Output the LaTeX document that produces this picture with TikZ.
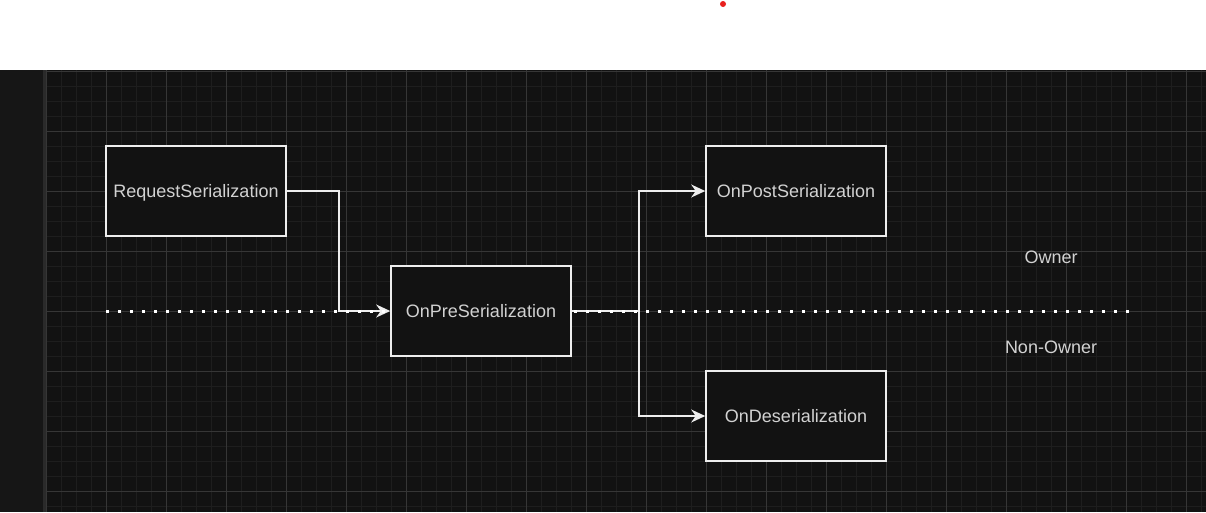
\documentclass[tikz,border=0pt]{standalone}
\usepackage{fontspec}
\setmainfont{Liberation Sans}
\usetikzlibrary{arrows.meta,backgrounds}
\definecolor{bgdark}{HTML}{121212}
\definecolor{strip}{HTML}{161616}
\definecolor{stripedge}{HTML}{2A2A2A}
\definecolor{minorgrid}{HTML}{1E1E1E}
\definecolor{majorgrid}{HTML}{363636}
\definecolor{boxline}{HTML}{EEEEEE}
\definecolor{txt}{HTML}{D2D2D2}
\definecolor{reddot}{HTML}{E8201E}
\begin{document}
\begin{tikzpicture}[x=1pt,y=-1pt,
  stepbox/.style={draw=boxline, line width=1.6pt, fill=bgdark, minimum width=180pt, minimum height=90pt, inner sep=0pt, text=txt, font=\fontsize{18}{21}\selectfont, text height=12.9pt, text depth=0pt},
  lbl/.style={text=txt, font=\fontsize{18}{21}\selectfont, inner sep=0pt, text height=12.9pt, text depth=0pt},
  conn/.style={draw=boxline, line width=1.6pt, -{Stealth[length=14pt,width=13pt,inset=4.5pt]}},
  dotline/.style={draw=white, line width=3pt, dash pattern=on 3pt off 9pt},
  minorline/.style={draw=minorgrid, line width=1pt},
  majorline/.style={draw=majorgrid, line width=1pt}]
\useasboundingbox (0,0) rectangle (1206,512);
\begin{pgfonlayer}{background}
\fill[white] (0,0) rectangle (1206,70);
\fill[bgdark] (0,70) rectangle (1206,512);
\foreach \x in {46,61,...,1206} \draw[minorline] (\x,70) -- (\x,512);
\foreach \y in {71,86,...,512} \draw[minorline] (45,\y) -- (1206,\y);
\foreach \x in {46,106,...,1206} \draw[majorline] (\x,70) -- (\x,512);
\foreach \y in {71,131,...,512} \draw[majorline] (45,\y) -- (1206,\y);
\fill[strip] (0,70) rectangle (43,512);
\fill[stripedge] (43,70) rectangle (45.5,512);
\fill[reddot] (723,4) circle (3pt);
\end{pgfonlayer}

\node[stepbox] (req) at (196,191) {RequestSerialization};
\node[stepbox] (pre) at (481,311) {OnPreSerialization};
\node[stepbox] (post) at (796,191) {OnPostSerialization};
\node[stepbox] (deser) at (796,416) {OnDeserialization};
\node[lbl] (owner) at (1051,257) {Owner};
\node[lbl] (nonowner) at (1051,347) {Non-Owner};

\coordinate (j1) at (339,250);
\coordinate (split) at (639,311);
\coordinate (dl) at (106,311);
\coordinate (dr) at (1129,311);

\begin{pgfonlayer}{background}
\draw[conn] (req.east) -| (j1) |- (pre.west);
\draw[conn] (pre.east) -- (split) |- (post.west);
\draw[conn] (split) |- (deser.west);
\draw[dotline] (dl) -- (dr);
\end{pgfonlayer}
\end{tikzpicture}
\end{document}
